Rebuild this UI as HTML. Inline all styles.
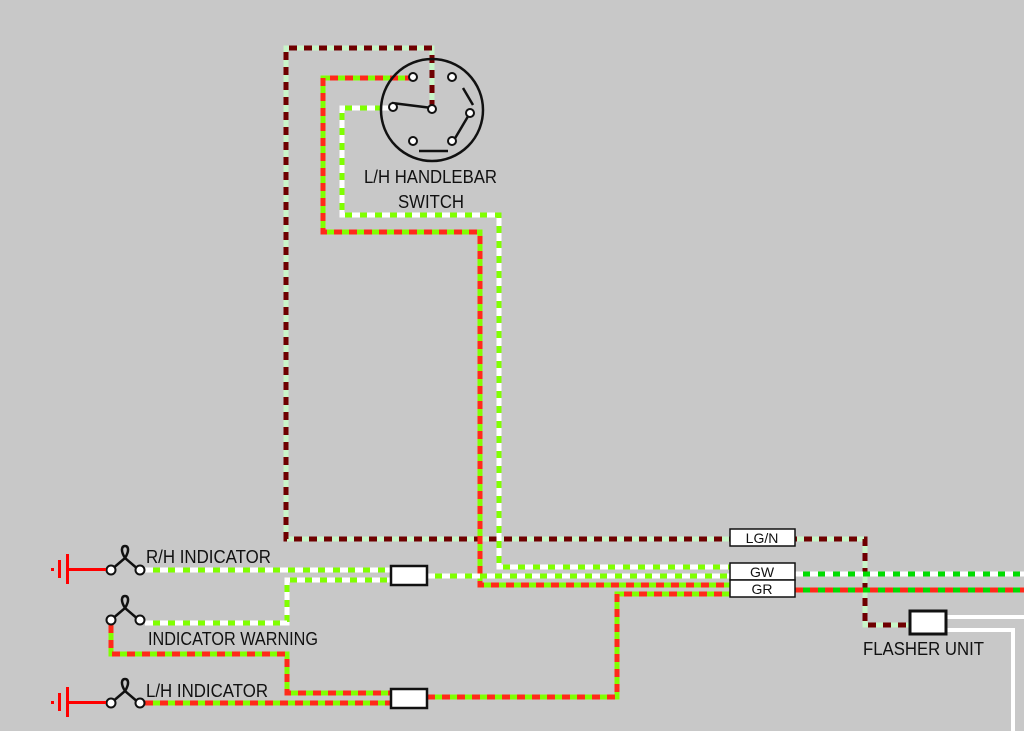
<!DOCTYPE html>
<html><head><meta charset="utf-8"><style>
html,body{margin:0;padding:0;background:#c8c8c8;}
svg{display:block}
text{font-family:"Liberation Sans",sans-serif;fill:#111;}
</style></head><body>
<svg width="1024" height="731" viewBox="0 0 1024 731" xmlns="http://www.w3.org/2000/svg">
<rect width="1024" height="731" fill="#c8c8c8"/>
<defs>
<style>
.w{fill:none;stroke-width:5;stroke-linejoin:miter}
.d{fill:none;stroke-width:5;stroke-dasharray:8 7;stroke-linejoin:miter}
</style>
</defs>
<!-- LG/N brown / light green -->
<path class="w" stroke="#c8f5c8" d="M432,108 V48 H286 V539 H865 V625 H910"/>
<path class="d" stroke="#6e0000" d="M432,108 V48 H286 V539 H865 V625 H910"/>
<!-- red/green from switch -->
<path class="w" stroke="#80ff00" d="M413,78 H323 V232 H480 V585 H730"/>
<path class="d" stroke="#ff2a1a" d="M413,78 H323 V232 H480 V585 H730"/>
<!-- green/white from switch -->
<path class="w" stroke="#80ff00" d="M390,108 H342 V215 H499 V567 H730"/>
<path class="d" stroke="#ffffff" d="M390,108 H342 V215 H499 V567 H730"/>
<!-- R/H indicator -->
<path class="w" stroke="#80ff00" d="M145,570 H392"/>
<path class="d" stroke="#ffffff" d="M145,570 H392"/>
<path class="w" stroke="#80ff00" d="M427,576 H730"/>
<path class="d" stroke="#ffffff" d="M427,576 H730"/>
<!-- warning g/w -->
<path class="w" stroke="#80ff00" d="M145,623 H287 V580 H392"/>
<path class="d" stroke="#ffffff" d="M145,623 H287 V580 H392"/>
<!-- warning r/g -->
<path class="w" stroke="#80ff00" d="M111,625 V654 H287 V693 H392"/>
<path class="d" stroke="#ff2a1a" d="M111,625 V654 H287 V693 H392"/>
<!-- L/H -->
<path class="w" stroke="#80ff00" d="M145,703 H392"/>
<path class="d" stroke="#ff2a1a" d="M145,703 H392"/>
<path class="w" stroke="#80ff00" d="M427,697 H617 V594 H730"/>
<path class="d" stroke="#ff2a1a" d="M427,697 H617 V594 H730"/>
<!-- right side -->
<path class="w" stroke="#00dd00" d="M795,574 H1024"/>
<path class="d" stroke="#ffffff" d="M795,574 H1024"/>
<path class="w" stroke="#00dd00" d="M795,590 H1024"/>
<path class="d" stroke="#ff2a1a" d="M795,590 H1024"/>
<!-- flasher white -->
<path fill="none" stroke="#fff" stroke-width="4" d="M946,617 H1024 M946,630 H1013 V731"/>
<!-- boxes -->
<rect x="391" y="566" width="36" height="19" fill="#fff" stroke="#111" stroke-width="2.5"/>
<rect x="391" y="689" width="36" height="19" fill="#fff" stroke="#111" stroke-width="2.5"/>
<rect x="910" y="611" width="36" height="23" fill="#fff" stroke="#111" stroke-width="3"/>
<rect x="730" y="529" width="65" height="17" fill="#fff" stroke="#111" stroke-width="1.5"/>
<rect x="730" y="563" width="65" height="17" fill="#fff" stroke="#111" stroke-width="1.5"/>
<rect x="730" y="580" width="65" height="17" fill="#fff" stroke="#111" stroke-width="1.5"/>
<text x="762" y="543" font-size="14" text-anchor="middle">LG/N</text>
<text x="762" y="577" font-size="14" text-anchor="middle">GW</text>
<text x="762" y="594" font-size="14" text-anchor="middle">GR</text>
<!-- switch -->
<circle cx="432" cy="110" r="51" fill="none" stroke="#111" stroke-width="2.5"/>
<g stroke="#111" stroke-width="2.5">
<line x1="392" y1="103" x2="432" y2="108"/>
<line x1="470" y1="113" x2="454" y2="140"/>
<line x1="419" y1="151" x2="448" y2="151"/>
<line x1="463" y1="88" x2="473" y2="105"/>
</g>
<g fill="#fff" stroke="#111" stroke-width="2">
<circle cx="413" cy="77" r="4"/><circle cx="452" cy="77" r="4"/>
<circle cx="393" cy="107" r="4"/><circle cx="432" cy="109" r="4"/>
<circle cx="470" cy="113" r="4"/><circle cx="413" cy="141" r="4"/><circle cx="452" cy="141" r="4"/>
</g>
<text x="364" y="183" font-size="18" textLength="133" lengthAdjust="spacingAndGlyphs">L/H HANDLEBAR</text>
<text x="398" y="208" font-size="18" textLength="66" lengthAdjust="spacingAndGlyphs">SWITCH</text>
<!-- indicators -->
<g id="sw">
<g stroke="#111" stroke-width="2.5" fill="none">
<path d="M111,570 L125,558 L139,570"/>
<path d="M125,558 C120,550 122,546 125,546 C128,546 130,550 125,558"/>
</g>
<circle cx="111" cy="570" r="4.5" fill="#fff" stroke="#111" stroke-width="2"/>
<circle cx="140" cy="570" r="4.5" fill="#fff" stroke="#111" stroke-width="2"/>
</g>
<use href="#sw" y="50"/>
<use href="#sw" y="133"/>
<g fill="#ff0000" stroke="none">
<rect x="51" y="568" width="3" height="3"/><rect x="58" y="560" width="3" height="18"/><rect x="66" y="554" width="3" height="30"/><rect x="66" y="568" width="40" height="3"/>
<rect x="51" y="701" width="3" height="3"/><rect x="58" y="693" width="3" height="18"/><rect x="66" y="687" width="3" height="30"/><rect x="66" y="701" width="40" height="3"/>
</g>
<text x="146" y="563" font-size="18" textLength="125" lengthAdjust="spacingAndGlyphs">R/H INDICATOR</text>
<text x="148" y="645" font-size="18" textLength="170" lengthAdjust="spacingAndGlyphs">INDICATOR WARNING</text>
<text x="146" y="697" font-size="18" textLength="122" lengthAdjust="spacingAndGlyphs">L/H INDICATOR</text>
<text x="863" y="655" font-size="18" textLength="121" lengthAdjust="spacingAndGlyphs">FLASHER UNIT</text>
</svg>
</body></html>
